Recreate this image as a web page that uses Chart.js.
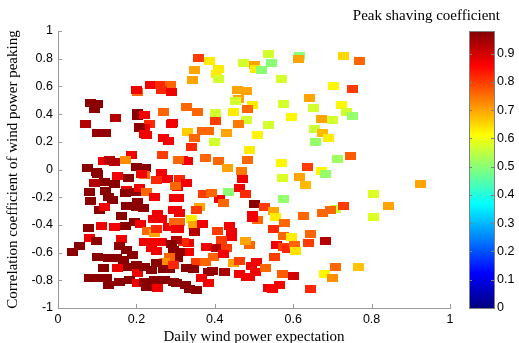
<!DOCTYPE html>
<html>
<head>
<meta charset="utf-8">
<script src="https://cdn.jsdelivr.net/npm/chart.js@4"></script>
<style>
html, body { margin: 0; padding: 0; background: #fff; }
</style>
</head>
<body>
<canvas id="chart" width="519" height="343"></canvas>
<script>
// Daily wind power expectation (x)
const windExp = [
  0.359,0.387,0.349,0.409,0.404,0.409,0.343,0.472,0.502,0.504,
  0.519,0.536,0.545,0.615,0.613,0.728,0.768,0.570,0.702,0.751,
  0.641,0.574,0.653,0.724,0.736,0.752,0.596,0.671,0.700,0.536,
  0.655,0.674,0.691,0.658,0.508,0.489,0.457,0.481,0.461,0.454,
  0.495,0.484,0.481,0.460,0.328,0.356,0.402,0.447,0.403,0.331,
  0.369,0.385,0.430,0.348,0.398,0.341,0.267,0.376,0.409,0.432,
  0.484,0.468,0.571,0.636,0.671,0.683,0.712,0.746,0.572,0.615,
  0.632,0.925,0.805,0.574,0.842,0.804,0.709,0.729,0.696,0.675,
  0.626,0.645,0.639,0.682,0.709,0.766,0.681,0.700,0.643,0.501,
  0.526,0.549,0.555,0.497,0.509,0.578,0.549,0.576,0.595,0.557,
  0.574,0.586,0.603,0.607,0.489,0.553,0.507,0.494,0.505,0.529,
  0.572,0.600,0.489,0.536,0.547,0.564,0.471,0.464,0.478,0.434,
  0.413,0.421,0.370,0.392,0.311,0.328,0.306,0.317,0.330,0.308,
  0.308,0.302,0.311,0.362,0.353,0.340,0.345,0.311,0.308,0.347,
  0.368,0.408,0.437,0.443,0.443,0.417,0.478,0.496,0.332,0.334,
  0.319,0.302,0.311,0.306,0.380,0.404,0.430,0.396,0.421,0.353,
  0.375,0.447,0.464,0.328,0.345,0.383,0.393,0.426,0.366,0.383,
  0.464,0.481,0.324,0.302,0.353,0.336,0.204,0.200,0.236,0.262,
  0.288,0.264,0.289,0.083,0.102,0.092,0.147,0.204,0.203,0.221,
  0.268,0.293,0.290,0.070,0.207,0.234,0.221,0.209,0.102,0.121,
  0.221,0.226,0.268,0.281,0.187,0.173,0.115,0.132,0.145,0.074,
  0.200,0.224,0.102,0.153,0.179,0.220,0.213,0.264,0.279,0.251,
  0.119,0.094,0.145,0.081,0.122,0.128,0.139,0.175,0.173,0.200,
  0.209,0.226,0.247,0.083,0.106,0.119,0.162,0.175,0.200,0.217,
  0.203,0.255,0.294,0.298,0.300,0.196,0.172,0.145,0.111,0.077,
  0.211,0.243,0.264,0.228,0.245,0.251,0.281,0.296,0.302,0.081,
  0.098,0.162,0.055,0.038,0.157,0.175,0.191,0.221,0.247,0.264,
  0.238,0.251,0.290,0.294,0.285,0.271,0.102,0.128,0.149,0.166,
  0.115,0.153,0.179,0.200,0.204,0.221,0.238,0.251,0.268,0.285,
  0.294,0.096,0.081,0.124,0.128,0.157,0.183,0.204,0.221,0.226,
  0.247,0.255,0.272,0.294,0.098
];

// Correlation coefficient of wind power peaking (y)
const corrCoef = [
  0.808,0.781,0.722,0.729,0.693,0.657,0.649,0.769,0.758,0.729,
  0.722,0.837,0.769,0.817,0.801,0.817,0.781,0.652,0.601,0.584,
  0.517,0.471,0.447,0.469,0.416,0.387,0.380,0.368,0.361,0.320,
  0.296,0.264,0.228,0.199,0.247,0.139,0.577,0.567,0.512,0.495,
  0.469,0.435,0.356,0.325,0.452,0.418,0.410,0.418,0.349,0.271,
  0.276,0.276,0.266,0.231,0.201,0.163,0.108,0.085,0.060,0.013,
  0.069,-0.010,0.049,0.019,-0.012,-0.036,0.074,0.096,-0.059,-0.053,
  -0.113,-0.106,-0.175,-0.216,-0.261,-0.346,-0.286,-0.265,-0.289,-0.317,
  -0.336,-0.469,-0.534,-0.517,-0.707,-0.701,-0.755,-0.784,-0.866,-0.247,
  -0.272,-0.303,-0.341,-0.330,-0.362,-0.387,-0.432,-0.478,-0.486,-0.543,
  -0.558,-0.575,-0.548,-0.586,-0.546,-0.631,-0.665,-0.698,-0.743,-0.712,
  -0.753,-0.770,-0.773,-0.854,-0.866,-0.835,-0.072,-0.130,-0.178,-0.166,
  -0.216,-0.241,-0.178,-0.169,-0.070,-0.097,-0.126,0.072,0.062,0.072,
  -0.209,-0.294,-0.317,-0.274,-0.289,-0.354,-0.402,-0.382,-0.426,-0.450,
  -0.390,-0.445,-0.409,-0.450,-0.486,-0.510,-0.517,-0.349,-0.534,-0.595,
  -0.522,-0.510,-0.595,-0.642,-0.558,-0.566,-0.566,-0.631,-0.613,-0.667,
  -0.667,-0.678,-0.662,-0.714,-0.719,-0.743,-0.734,-0.739,-0.782,-0.823,
  -0.758,-0.775,-0.835,-0.823,-0.871,-0.864,0.556,0.572,0.613,0.613,
  0.608,0.572,0.556,0.480,0.471,0.435,0.370,0.411,0.387,0.397,
  0.416,0.336,0.327,0.327,0.307,0.325,0.303,0.300,0.260,0.260,
  0.258,0.247,0.228,0.209,0.108,0.067,0.062,0.067,0.055,0.013,
  0.019,0.012,-0.029,-0.048,-0.061,-0.041,-0.029,-0.025,-0.065,-0.077,
  -0.089,-0.101,-0.106,-0.162,-0.157,-0.198,-0.221,-0.149,-0.173,-0.162,
  -0.137,-0.162,-0.198,-0.229,-0.294,-0.274,-0.337,-0.265,-0.274,-0.281,
  -0.234,-0.323,-0.294,-0.209,-0.120,-0.382,-0.409,-0.414,-0.407,-0.421,
  -0.397,-0.359,-0.354,-0.445,-0.455,-0.426,-0.414,-0.378,-0.426,-0.494,
  -0.517,-0.503,-0.551,-0.595,-0.551,-0.582,-0.618,-0.527,-0.522,-0.522,
  -0.570,-0.589,-0.541,-0.582,-0.631,-0.667,-0.631,-0.638,-0.642,-0.654,
  -0.710,-0.714,-0.703,-0.690,-0.750,-0.703,-0.727,-0.678,-0.719,-0.719,
  -0.690,-0.782,-0.782,-0.786,-0.835,-0.811,-0.799,-0.823,-0.811,-0.847,
  -0.799,-0.859,-0.799,-0.811,-0.017
];

// Peak shaving coefficient (colour)
const peakCoef = [
  0.80,0.63,0.70,0.63,0.63,0.57,0.70,0.57,0.70,0.63,
  0.50,0.57,0.50,0.50,0.70,0.65,0.76,0.57,0.62,0.80,
  0.70,0.57,0.57,0.62,0.57,0.51,0.62,0.70,0.57,0.57,
  0.56,0.68,0.63,0.51,0.62,0.63,0.70,0.70,0.70,0.57,
  0.63,0.76,0.57,0.74,0.76,0.76,0.57,0.63,0.80,0.66,
  0.76,0.76,0.70,0.76,0.57,0.82,0.80,0.76,0.76,0.70,
  0.76,0.74,0.62,0.80,0.62,0.51,0.52,0.77,0.58,0.70,
  0.68,0.70,0.58,0.51,0.70,0.58,0.56,0.80,0.76,0.76,
  0.76,0.76,0.80,0.93,0.76,0.67,0.62,0.72,0.82,0.97,
  0.80,0.70,0.63,0.87,0.76,0.76,0.82,0.76,0.63,0.87,
  0.80,0.82,0.76,0.64,0.76,0.80,0.87,0.87,0.87,0.76,
  0.77,0.90,0.87,0.87,0.86,0.86,0.87,0.87,0.82,0.50,
  0.87,0.76,0.80,0.76,0.82,0.87,0.87,0.87,0.87,0.76,
  0.87,0.87,0.87,0.70,0.80,0.63,0.70,0.76,0.87,0.93,
  0.87,0.80,0.87,0.87,0.87,0.80,0.70,0.87,0.87,0.87,
  0.82,0.93,0.97,0.97,0.87,0.93,0.80,0.76,0.87,0.80,
  0.76,0.70,0.80,0.97,0.97,0.97,0.96,0.94,0.87,0.87,
  0.87,0.87,0.97,0.97,0.97,0.97,0.76,0.87,0.87,0.82,
  0.76,0.82,0.87,0.97,0.97,0.97,0.93,0.97,0.97,0.87,
  0.76,0.87,0.87,0.93,0.97,0.82,0.87,0.97,0.96,0.96,
  0.87,0.87,0.87,0.87,0.87,0.72,0.87,0.93,0.93,0.97,
  0.97,0.97,0.97,0.87,0.97,0.76,0.87,0.87,0.87,0.82,
  0.97,0.93,0.97,0.97,0.97,0.97,0.97,0.87,0.97,0.97,
  0.87,0.76,0.87,0.97,0.97,0.87,0.97,0.97,0.97,0.97,
  0.97,0.87,0.87,0.87,0.76,0.97,0.97,0.87,0.87,0.97,
  0.87,0.87,0.87,0.76,0.70,0.82,0.87,0.76,0.87,0.87,
  0.97,0.87,0.97,0.97,0.97,0.97,0.97,0.87,0.87,0.87,
  0.87,0.87,0.97,0.97,0.76,0.72,0.97,0.97,0.97,0.97,
  0.97,0.87,0.97,0.97,0.87,0.97,0.97,0.97,0.97,0.97,
  0.82,0.97,0.97,0.97,0.97,0.97,0.97,0.87,0.97,0.97,
  0.97,0.87,0.97,0.97,0.97
];

const cMax = 0.98;
const axisColor = '#9a9a9a';

// jet colormap
function jet(v) {
  const t = Math.min(1, Math.max(0, v / cMax));
  const cl = a => Math.round(255 * Math.min(1, Math.max(0, a)));
  const r = cl(1.5 - Math.abs(4 * t - 3));
  const g = cl(1.5 - Math.abs(4 * t - 2));
  const b = cl(1.5 - Math.abs(4 * t - 1));
  return `rgb(${r},${g},${b})`;
}

// rectangular markers, one canvas per colour
const markerCache = {};
function markerFor(v) {
  const col = jet(v);
  if (!markerCache[col]) {
    const c = document.createElement('canvas');
    c.width = 11; c.height = 8;
    const cx = c.getContext('2d');
    cx.fillStyle = col;
    cx.fillRect(0, 0, 11, 8);
    markerCache[col] = c;
  }
  return markerCache[col];
}

const fmt = v => String(Math.round(v * 10) / 10);
// only label whole tenths (hides the 0.98 end of the colour bar)
const fmtTenths = v => Math.abs(v * 10 - Math.round(v * 10)) < 1e-6 ? fmt(v) : null;

// drop the label padding the scales ask for, the layout is fixed by hand
const fixBox = (w, h) => s => {
  if (w !== null) s.width = w;
  if (h !== null) s.height = h;
  s.paddingTop = 0; s.paddingBottom = 0; s.paddingLeft = 0; s.paddingRight = 0;
};

// small ticks pointing into the plot, like the original figure
const innerTicks = {
  id: 'innerTicks',
  afterDraw(chart) {
    const {ctx, chartArea: a, scales} = chart;
    ctx.save();
    ctx.strokeStyle = axisColor;
    ctx.lineWidth = 1;
    ctx.beginPath();
    scales.x.ticks.forEach(t => {
      const x = Math.round(scales.x.getPixelForValue(t.value)) + 0.5;
      ctx.moveTo(x, a.bottom); ctx.lineTo(x, a.bottom - 4);
    });
    scales.y.ticks.forEach(t => {
      const y = Math.round(scales.y.getPixelForValue(t.value)) + 0.5;
      ctx.moveTo(a.left, y); ctx.lineTo(a.left + 4, y);
    });
    ctx.stroke();
    ctx.restore();
  }
};

// colour bar drawn against the 'cb' scale
const colorbar = {
  id: 'colorbar',
  afterDraw(chart) {
    const ctx = chart.ctx, s = chart.scales.cb;
    const top = s.getPixelForValue(cMax), bottom = s.getPixelForValue(0);
    const left = s.left + 19, right = s.left + 44;
    const g = ctx.createLinearGradient(0, bottom, 0, top);
    for (let i = 0; i <= 64; i++) g.addColorStop(i / 64, jet(i / 64 * cMax));
    ctx.save();
    ctx.fillStyle = g;
    ctx.fillRect(left, top, right - left, bottom - top);
    ctx.strokeStyle = '#808080';
    ctx.lineWidth = 1;
    ctx.strokeRect(left + 0.5, Math.round(top) + 0.5, right - left, Math.round(bottom - top));
    ctx.beginPath();
    s.ticks.forEach(t => {
      if (fmtTenths(t.value) === null) return;
      const y = Math.round(s.getPixelForValue(t.value)) + 0.5;
      ctx.moveTo(right, y); ctx.lineTo(right - 3, y);
      ctx.moveTo(left, y); ctx.lineTo(left + 3, y);
    });
    ctx.stroke();
    ctx.fillStyle = '#000';
    ctx.font = '15px "Liberation Serif"';
    ctx.textAlign = 'right';
    ctx.textBaseline = 'middle';
    ctx.fillText('Peak shaving coefficient', 500, 16);
    ctx.restore();
  }
};

const tickFont = {family: '"Liberation Sans", Arial, sans-serif', size: 12.5};
const titleFont = {family: '"Liberation Serif", "Times New Roman", serif', size: 15, lineHeight: 1.2};

new Chart(document.getElementById('chart'), {
  type: 'scatter',
  data: {
    datasets: [{
      data: windExp.map((x, i) => ({x: x, y: corrCoef[i]})),
      pointStyle: c => markerFor(peakCoef[c.dataIndex]),
      pointRadius: 6,
      pointHoverRadius: 6
    }]
  },
  options: {
    responsive: false,
    animation: false,
    devicePixelRatio: 1,
    layout: {padding: {top: 31, left: 0, right: 0, bottom: 0}},
    plugins: {legend: {display: false}, tooltip: {enabled: false}},
    scales: {
      x: {
        type: 'linear', position: 'bottom', min: 0, max: 1,
        afterFit: fixBox(null, 35),
        grid: {display: false, drawTicks: false},
        border: {color: axisColor},
        ticks: {stepSize: 0.2, padding: 4, color: '#000', font: tickFont, callback: fmt, maxRotation: 0},
        title: {display: true, text: 'Daily wind power expectation', color: '#000', font: titleFont, padding: {top: 0, bottom: -3}}
      },
      y: {
        type: 'linear', position: 'left', min: -1, max: 1,
        afterFit: fixBox(58, null),
        grid: {display: false, drawTicks: false},
        border: {color: axisColor},
        ticks: {stepSize: 0.2, padding: 5, color: '#000', font: tickFont, callback: fmt},
        title: {display: true, text: 'Correlation coefficient of wind power peaking', color: '#000', font: titleFont, padding: {top: 4, bottom: 0}}
      },
      cb: {
        type: 'linear', position: 'right', min: 0, max: cMax,
        afterFit: fixBox(69, null),
        grid: {display: false, drawTicks: false},
        border: {display: false},
        ticks: {stepSize: 0.1, padding: 47, color: '#000', font: tickFont, callback: fmtTenths}
      }
    }
  },
  plugins: [innerTicks, colorbar]
});
</script>
</body>
</html>
